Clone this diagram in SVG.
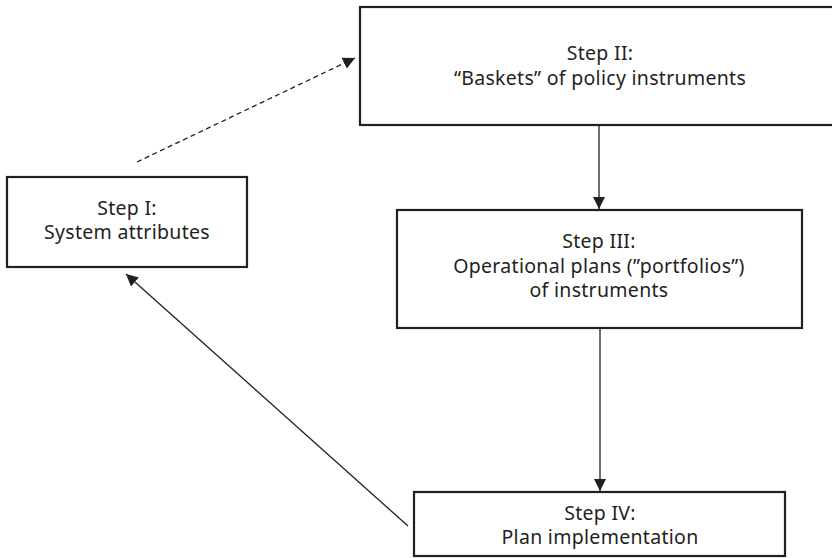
<svg xmlns="http://www.w3.org/2000/svg" width="832" height="558" viewBox="0 0 832 558">
<style>
.box{fill:#fff;stroke:#231f20;stroke-width:2.2}
.t{font-family:"Noto Sans","Open Sans","Liberation Sans",sans-serif;font-size:19.5px;letter-spacing:0.3px;fill:#231f20;text-anchor:middle}
.c{stroke:#231f20;stroke-width:1.3;fill:none}
</style>
<defs>
<marker id="ah" viewBox="0 0 10 10" refX="10" refY="5" markerWidth="12" markerHeight="12" markerUnits="userSpaceOnUse" orient="auto">
<path d="M0,0 L10,5 L0,10 z" fill="#231f20"/>
</marker>
</defs>
<rect width="832" height="558" fill="#fff"/>
<g id="connectors">
<line class="c" x1="137" y1="162" x2="355" y2="58" stroke-dasharray="5,3.5" marker-end="url(#ah)"/>
<line class="c" x1="599" y1="125" x2="599" y2="209" marker-end="url(#ah)"/>
<line class="c" x1="600" y1="329" x2="600" y2="491" marker-end="url(#ah)"/>
<line class="c" x1="408" y1="526" x2="126" y2="274" marker-end="url(#ah)"/>
</g>
<g id="step1">
<rect class="box" x="7" y="177" width="240" height="90"/>
<text class="t" x="127" y="214.5">Step I:</text>
<text class="t" x="127" y="239">System attributes</text>
</g>
<g id="step2">
<rect class="box" x="360" y="7" width="480" height="118"/>
<text class="t" x="600" y="60">Step II:</text>
<text class="t" x="600" y="84.5">“Baskets” of policy instruments</text>
</g>
<g id="step3">
<rect class="box" x="397" y="210" width="405" height="118"/>
<text class="t" x="599" y="248">Step III:</text>
<text class="t" x="599" y="272.5">Operational plans (”portfolios”)</text>
<text class="t" x="599" y="297">of instruments</text>
</g>
<g id="step4">
<rect class="box" x="414" y="492" width="371" height="64"/>
<text class="t" x="600" y="519.5">Step IV:</text>
<text class="t" x="600" y="544">Plan implementation</text>
</g>
</svg>
